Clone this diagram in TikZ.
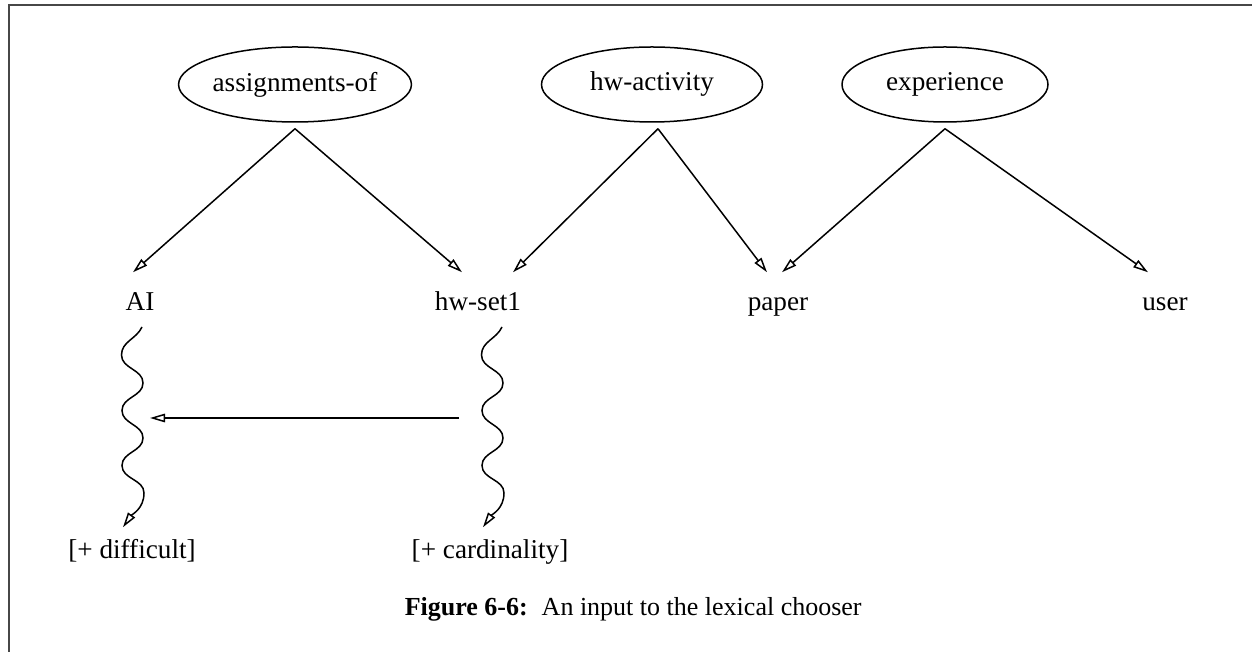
\documentclass[tikz,border=0pt]{standalone}
\usepackage{fontspec}
\setmainfont{Liberation Serif}
\usetikzlibrary{shapes.geometric,arrows.meta}

\begin{document}
\begin{tikzpicture}[x=1pt,y=1pt,
  line width=1.5pt,
  txt/.style={font=\fontsize{27.2pt}{32pt}\selectfont},
  concept/.style={txt, ellipse, draw, inner sep=0pt, minimum height=75pt},
  word/.style={txt, inner xsep=0pt, inner ysep=19pt, text height=19pt, text depth=5pt, anchor=base},
  feature/.style={txt, inner xsep=0pt, inner ysep=12pt, text height=19pt, text depth=5pt, anchor=base},
  hollow/.style={-{Triangle[open, length=15pt, width=8.5pt]}},
  rel/.style={hollow},
  wave/.style={hollow},
  frame/.style={draw=black!72, line width=2pt}
]
\useasboundingbox (0,0) rectangle (1252,652);

% partial frame: left and top edges
\draw[frame] (9,0) -- (9,647) -- (1252,647);

% concept nodes
\node[concept, minimum width=222pt] (asg) at (295,567.5) {assignments-of};
\node[concept, minimum width=221pt] (hwa) at (652,567.5) {hw-activity};
\node[concept, minimum width=206pt] (exp) at (945,567.5) {experience};

% branching points just below each concept
\coordinate (asgA) at ([yshift=-6pt]asg.south);
\coordinate (hwaA) at ([xshift=6pt,yshift=-6pt]hwa.south);
\coordinate (expA) at ([yshift=-6pt]exp.south);

% word nodes
\node[word] (ai)    at (140,341)  {AI};
\node[word] (hws)   at (478,341)  {hw-set1};
\node[word] (paper) at (778,341)  {paper};
\node[word] (user)  at (1165,341) {user};

% feature nodes
\node[feature] (diff) at (132,93) {[+ difficult]};
\node[feature] (card) at (490,93) {[+ cardinality]};

% relation arrows
\draw[rel] (asgA) -- ([xshift=-7pt]ai.north);
\draw[rel] (asgA) -- ([xshift=-16pt]hws.north);
\draw[rel] (hwaA) -- ([xshift=35pt]hws.north);
\draw[rel] (hwaA) -- ([xshift=-11pt]paper.north);
\draw[rel] (expA) -- ([xshift=4pt]paper.north);
\draw[rel] (expA) -- ([xshift=-17pt]user.north);

% wavy feature links
\coordinate (aiW) at (142,325);
\coordinate (hwW) at (502,325);
\draw[wave] (aiW) to[out=-115,in=90] ++(-20.5,-28) to[out=-90,in=90] ++(21.5,-28)
  to[out=-90,in=90] ++(-21,-27.5) to[out=-90,in=90] ++(21,-27.5)
  to[out=-90,in=90] ++(-21,-27.5) to[out=-90,in=90] ++(22,-27.5)
  to[out=-90,in=55] ([xshift=-9pt]diff.north);
\draw[wave] (hwW) to[out=-115,in=90] ++(-20.5,-28) to[out=-90,in=90] ++(21.5,-28)
  to[out=-90,in=90] ++(-21,-27.5) to[out=-90,in=90] ++(21,-27.5)
  to[out=-90,in=90] ++(-21,-27.5) to[out=-90,in=90] ++(22,-27.5)
  to[out=-90,in=55] ([xshift=-7pt]card.north);

% link between the two wavy paths
\coordinate (linkS) at (459,234);
\coordinate (linkE) at (150,234);
\draw[rel] (linkS) -- (linkE);

% caption
\node[txt, font=\fontsize{26pt}{30pt}\selectfont, anchor=base west, inner sep=0pt] (cap) at (404,36)
  {\textbf{Figure 6-6:}\hspace*{14pt}An input to the lexical chooser};
\end{tikzpicture}
\end{document}
